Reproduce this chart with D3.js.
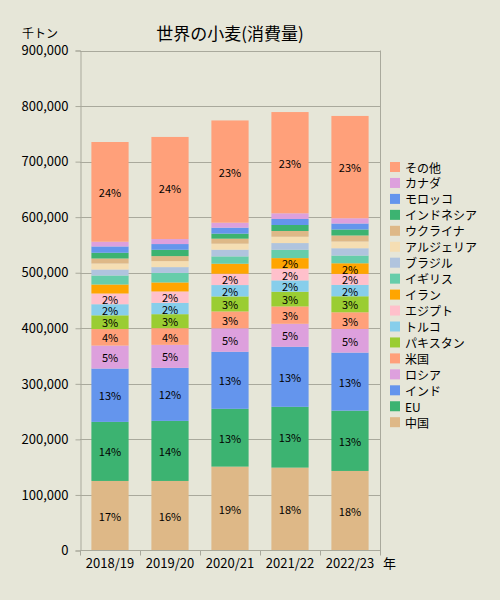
<!DOCTYPE html>
<html><head><meta charset="utf-8">
<script src="https://cdn.jsdelivr.net/npm/d3@7"></script>
<style>
html,body{margin:0;padding:0;background:#E6E6D8;}
svg{display:block;}
text{font-family:"Noto Sans CJK JP","Noto Sans",sans-serif;fill:#000;}
</style></head>
<body>
<script>
// ---- data (千トン) ----
const years = ["2018/19","2019/20","2020/21","2021/22","2022/23"];
// stacking order, bottom to top
const seriesNames = ["中国","EU","インド","ロシア","米国","パキスタン","トルコ","エジプト","イラン","イギリス","ブラジル","アルジェリア","ウクライナ","インドネシア","モロッコ","カナダ","その他"];
const seriesValues = [
  [125200,125200,151000,149200,143200], // 中国
  [106300,108100,104000,109400,108500], // EU
  [ 96000, 95500,102700,108100,104500], // インド
  [ 41400, 41400, 42300, 41400, 42700], // ロシア
  [ 29700, 30000, 30300, 31200, 29900], // 米国
  [ 24700, 25200, 27000, 26500, 28800], // パキスタン
  [ 20000, 20400, 20500, 20400, 20500], // トルコ
  [ 19300, 20500, 20400, 21100, 19800], // エジプト
  [ 16200, 16200, 18000, 19000, 19100], // イラン
  [ 16200, 17100, 13200, 15000, 13900], // イギリス
  [ 10800, 10500, 12100, 12100, 13200], // ブラジル
  [ 10800, 10800, 10800, 11400, 12100], // アルジェリア
  [  9000,  9000,  9000, 10300, 10800], // ウクライナ
  [ 10300, 11400,  9000, 10800, 10800], // インドネシア
  [ 11400, 10300, 10800, 10800, 10800], // モロッコ
  [  8500,  9000,  9000, 10300,  9500], // カナダ
  [179500,183800,184000,182200,184100]  // その他
];
const yTicks = [0,100000,200000,300000,400000,500000,600000,700000,800000,900000];
const titleText = "世界の小麦(消費量)";
const unitText = "千トン";
const xUnitText = "年";

// ---- styles ----
const palette = ["#DEB887","#3CB371","#6495ED","#DDA0DD","#FFA07A","#9ACD32","#87CEEB","#FFC0CB","#FFA500","#66CDAA","#B0C4DE","#F5DEB3"];
const W = 500, H = 600;
const L = 80, R = 380, T = 50.5, B = 550.5;

const svg = d3.select("body").append("svg").attr("width", W).attr("height", H);
svg.append("rect").attr("width", W).attr("height", H).attr("fill", "#E6E6D8");

const x = d3.scaleBand().domain(years).range([L, R]).paddingInner(0.38).paddingOuter(0.19);
const y = d3.scaleLinear().domain([0, 900000]).range([B, T]);
const color = (i) => palette[i % palette.length];

// table for stacking
const table = years.map((yr, j) => {
  const row = {year: yr};
  seriesNames.forEach((s, i) => row[s] = seriesValues[i][j]);
  return row;
});
const totals = years.map((yr, j) => d3.sum(seriesValues, v => v[j]));
const stack = d3.stack().keys(seriesNames)(table);

// gridlines
svg.append("g").selectAll("line").data(yTicks.filter(t => t > 0)).join("line")
  .attr("x1", L).attr("x2", R).attr("y1", d => Math.round(y(d)) + 0.5).attr("y2", d => Math.round(y(d)) + 0.5)
  .attr("stroke", "#A9A99C").attr("stroke-width", 1);
// right border
svg.append("line").attr("x1", R + 0.5).attr("x2", R + 0.5).attr("y1", y(900000)).attr("y2", B)
  .attr("stroke", "#A9A99C");

// bars
const gBars = svg.append("g");
stack.forEach((layer, i) => {
  gBars.append("g").attr("fill", color(i)).selectAll("rect").data(layer).join("rect")
    .attr("x", d => x(d.data.year))
    .attr("width", x.bandwidth())
    .attr("y", d => y(d[1]))
    .attr("height", d => y(d[0]) - y(d[1]));
});

// percent labels
const gLab = svg.append("g");
stack.forEach((layer, i) => {
  layer.forEach((d, j) => {
    const v = d[1] - d[0];
    const p = v / totals[j] * 100;
    if (p >= 2.4) {
      gLab.append("text")
        .attr("x", x(d.data.year) + x.bandwidth() / 2)
        .attr("y", (y(d[0]) + y(d[1])) / 2)
        .attr("text-anchor", "middle").attr("dominant-baseline", "central")
        .attr("font-size", 11)
        .text(Math.floor(p) + "%");
    }
  });
});

// y axis
const yAxis = d3.axisLeft(y).tickValues(yTicks).tickFormat(d3.format(",")).tickSize(5).tickPadding(7);
const gy = svg.append("g").attr("transform", `translate(${L + 0.5},0)`).call(yAxis);
gy.select(".domain").attr("stroke", "#A9A99C");
gy.selectAll(".tick line").attr("stroke", "#A9A99C");
gy.selectAll(".tick text").attr("font-size", 13).attr("font-family", '"Noto Sans CJK JP","Noto Sans",sans-serif');

// x axis (ticks at category boundaries)
const gx = svg.append("g").attr("transform", `translate(0,${B})`);
gx.append("line").attr("x1", L).attr("x2", R + 1).attr("y1", 0).attr("y2", 0).attr("stroke", "#A9A99C");
const edges = years.map((yr, j) => L + j * x.step()).concat([R]);
gx.selectAll("line.t").data(edges).join("line").attr("class", "t")
  .attr("x1", d => Math.round(d) + 0.5).attr("x2", d => Math.round(d) + 0.5).attr("y1", 0).attr("y2", 5)
  .attr("stroke", "#A9A99C");
gx.selectAll("text").data(years).join("text")
  .attr("x", d => x(d) + x.bandwidth() / 2).attr("y", 17)
  .attr("text-anchor", "middle").attr("font-size", 13).text(d => d);
gx.append("text").attr("x", 383).attr("y", 17).attr("font-size", 13).text(xUnitText);

// title & unit
svg.append("text").attr("x", 230).attr("y", 40).attr("text-anchor", "middle").attr("font-size", 17).text(titleText);
svg.append("text").attr("x", 40).attr("y", 38).attr("text-anchor", "middle").attr("font-size", 12).text(unitText);

// legend (top to bottom: reverse stack order)
const legendItems = seriesNames.map((s, i) => ({name: s, i})).reverse();
const gLeg = svg.append("g").attr("transform", "translate(390,162)");
const li = gLeg.selectAll("g").data(legendItems).join("g").attr("transform", (d, k) => `translate(0,${k * 15.95})`);
li.append("rect").attr("width", 10).attr("height", 10).attr("fill", d => color(d.i));
li.append("text").attr("x", 15).attr("y", 5).attr("dominant-baseline", "central").attr("font-size", 12).text(d => d.name);
</script>
</body></html>
